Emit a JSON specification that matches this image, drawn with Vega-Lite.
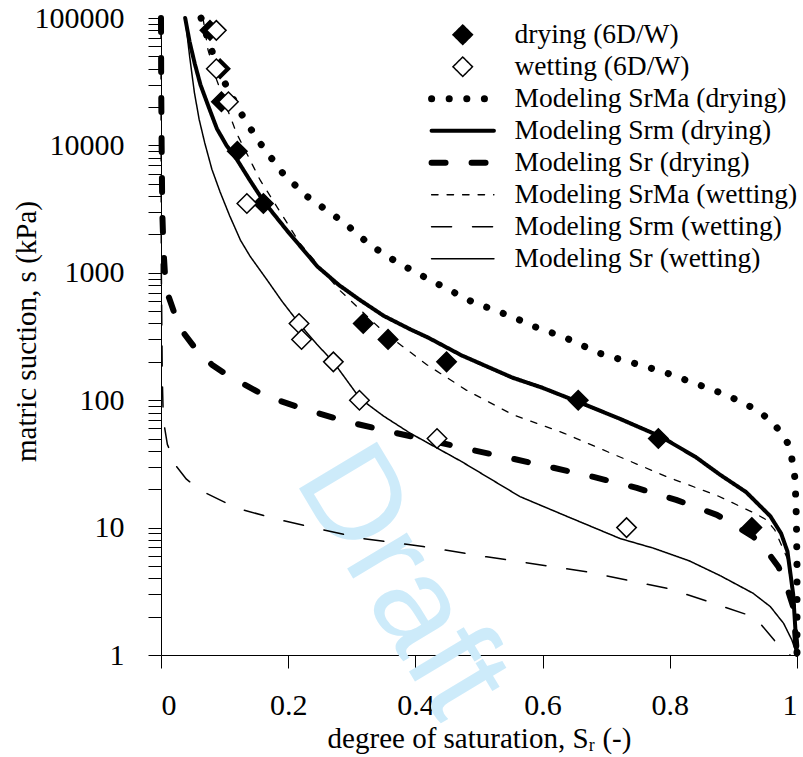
{
  "$schema": "https://vega.github.io/schema/vega-lite/v6.json",
  "width": 636,
  "height": 637,
  "autosize": {"type": "none"},
  "padding": {"left": 161, "top": 18, "right": 6, "bottom": 102},
  "background": "white",
  "config": {
    "view": {"stroke": null},
    "font": "Liberation Serif",
    "axis": {
      "grid": false,
      "domainColor": "black",
      "domainWidth": 1,
      "tickColor": "black",
      "tickWidth": 1,
      "tickSize": 13,
      "labelColor": "black",
      "titleColor": "black",
      "labelFont": "Liberation Serif",
      "titleFont": "Liberation Serif",
      "labelFontSize": 30,
      "titleFontSize": 29,
      "titleFontWeight": "normal"
    },
    "legend": {
      "labelFont": "Liberation Serif",
      "labelFontSize": 27.5,
      "labelColor": "black",
      "labelLimit": 0,
      "symbolSize": 380,
      "symbolStrokeColor": "black",
      "padding": 0
    }
  },
  "datasets": {
    "lines": [
      {"series": "Modeling SrMa (drying)", "Sr": 0.063, "s": 100000},
      {"series": "Modeling SrMa (drying)", "Sr": 0.076, "s": 63000},
      {"series": "Modeling SrMa (drying)", "Sr": 0.09, "s": 40000},
      {"series": "Modeling SrMa (drying)", "Sr": 0.106, "s": 27000},
      {"series": "Modeling SrMa (drying)", "Sr": 0.132, "s": 15800},
      {"series": "Modeling SrMa (drying)", "Sr": 0.156, "s": 10400},
      {"series": "Modeling SrMa (drying)", "Sr": 0.192, "s": 6000},
      {"series": "Modeling SrMa (drying)", "Sr": 0.229, "s": 4000},
      {"series": "Modeling SrMa (drying)", "Sr": 0.287, "s": 2500},
      {"series": "Modeling SrMa (drying)", "Sr": 0.329, "s": 1650},
      {"series": "Modeling SrMa (drying)", "Sr": 0.37, "s": 1220},
      {"series": "Modeling SrMa (drying)", "Sr": 0.418, "s": 905},
      {"series": "Modeling SrMa (drying)", "Sr": 0.489, "s": 593},
      {"series": "Modeling SrMa (drying)", "Sr": 0.553, "s": 450},
      {"series": "Modeling SrMa (drying)", "Sr": 0.588, "s": 377},
      {"series": "Modeling SrMa (drying)", "Sr": 0.634, "s": 312},
      {"series": "Modeling SrMa (drying)", "Sr": 0.69, "s": 233},
      {"series": "Modeling SrMa (drying)", "Sr": 0.79, "s": 167},
      {"series": "Modeling SrMa (drying)", "Sr": 0.889, "s": 110},
      {"series": "Modeling SrMa (drying)", "Sr": 0.937, "s": 84},
      {"series": "Modeling SrMa (drying)", "Sr": 0.96, "s": 68},
      {"series": "Modeling SrMa (drying)", "Sr": 0.976, "s": 55},
      {"series": "Modeling SrMa (drying)", "Sr": 0.989, "s": 43},
      {"series": "Modeling SrMa (drying)", "Sr": 0.997, "s": 24},
      {"series": "Modeling SrMa (drying)", "Sr": 0.999, "s": 12},
      {"series": "Modeling SrMa (drying)", "Sr": 1.0, "s": 5},
      {"series": "Modeling SrMa (drying)", "Sr": 1.0, "s": 1},

      {"series": "Modeling Srm (drying)", "Sr": 0.038, "s": 100000},
      {"series": "Modeling Srm (drying)", "Sr": 0.045, "s": 65000},
      {"series": "Modeling Srm (drying)", "Sr": 0.053, "s": 44000},
      {"series": "Modeling Srm (drying)", "Sr": 0.062, "s": 30000},
      {"series": "Modeling Srm (drying)", "Sr": 0.075, "s": 20000},
      {"series": "Modeling Srm (drying)", "Sr": 0.088, "s": 13500},
      {"series": "Modeling Srm (drying)", "Sr": 0.103, "s": 10000},
      {"series": "Modeling Srm (drying)", "Sr": 0.119, "s": 7800},
      {"series": "Modeling Srm (drying)", "Sr": 0.14, "s": 5300},
      {"series": "Modeling Srm (drying)", "Sr": 0.162, "s": 3600},
      {"series": "Modeling Srm (drying)", "Sr": 0.198, "s": 2150},
      {"series": "Modeling Srm (drying)", "Sr": 0.246, "s": 1120},
      {"series": "Modeling Srm (drying)", "Sr": 0.28, "s": 800},
      {"series": "Modeling Srm (drying)", "Sr": 0.311, "s": 620},
      {"series": "Modeling Srm (drying)", "Sr": 0.35, "s": 460},
      {"series": "Modeling Srm (drying)", "Sr": 0.392, "s": 360},
      {"series": "Modeling Srm (drying)", "Sr": 0.42, "s": 310},
      {"series": "Modeling Srm (drying)", "Sr": 0.4725, "s": 225},
      {"series": "Modeling Srm (drying)", "Sr": 0.553, "s": 150},
      {"series": "Modeling Srm (drying)", "Sr": 0.6, "s": 125},
      {"series": "Modeling Srm (drying)", "Sr": 0.656, "s": 97},
      {"series": "Modeling Srm (drying)", "Sr": 0.72, "s": 72},
      {"series": "Modeling Srm (drying)", "Sr": 0.785, "s": 52},
      {"series": "Modeling Srm (drying)", "Sr": 0.84, "s": 36},
      {"series": "Modeling Srm (drying)", "Sr": 0.879, "s": 26},
      {"series": "Modeling Srm (drying)", "Sr": 0.92, "s": 19},
      {"series": "Modeling Srm (drying)", "Sr": 0.958, "s": 12.3},
      {"series": "Modeling Srm (drying)", "Sr": 0.975, "s": 9},
      {"series": "Modeling Srm (drying)", "Sr": 0.985, "s": 6.5},
      {"series": "Modeling Srm (drying)", "Sr": 0.994, "s": 3},
      {"series": "Modeling Srm (drying)", "Sr": 1.0, "s": 1},

      {"series": "Modeling Sr (drying)", "Sr": 0.0, "s": 100000},
      {"series": "Modeling Sr (drying)", "Sr": 0.0003, "s": 30000},
      {"series": "Modeling Sr (drying)", "Sr": 0.001, "s": 10000},
      {"series": "Modeling Sr (drying)", "Sr": 0.002, "s": 3000},
      {"series": "Modeling Sr (drying)", "Sr": 0.004, "s": 1500},
      {"series": "Modeling Sr (drying)", "Sr": 0.0065, "s": 930},
      {"series": "Modeling Sr (drying)", "Sr": 0.012, "s": 650},
      {"series": "Modeling Sr (drying)", "Sr": 0.022, "s": 467},
      {"series": "Modeling Sr (drying)", "Sr": 0.035, "s": 340},
      {"series": "Modeling Sr (drying)", "Sr": 0.056, "s": 247},
      {"series": "Modeling Sr (drying)", "Sr": 0.08, "s": 190},
      {"series": "Modeling Sr (drying)", "Sr": 0.108, "s": 153},
      {"series": "Modeling Sr (drying)", "Sr": 0.166, "s": 107},
      {"series": "Modeling Sr (drying)", "Sr": 0.229, "s": 84},
      {"series": "Modeling Sr (drying)", "Sr": 0.292, "s": 68},
      {"series": "Modeling Sr (drying)", "Sr": 0.357, "s": 57},
      {"series": "Modeling Sr (drying)", "Sr": 0.418, "s": 49},
      {"series": "Modeling Sr (drying)", "Sr": 0.486, "s": 41},
      {"series": "Modeling Sr (drying)", "Sr": 0.55, "s": 35},
      {"series": "Modeling Sr (drying)", "Sr": 0.617, "s": 29.5},
      {"series": "Modeling Sr (drying)", "Sr": 0.68, "s": 25},
      {"series": "Modeling Sr (drying)", "Sr": 0.748, "s": 20.5},
      {"series": "Modeling Sr (drying)", "Sr": 0.81, "s": 16.5},
      {"series": "Modeling Sr (drying)", "Sr": 0.874, "s": 12.6},
      {"series": "Modeling Sr (drying)", "Sr": 0.931, "s": 8.5},
      {"series": "Modeling Sr (drying)", "Sr": 0.955, "s": 6.3},
      {"series": "Modeling Sr (drying)", "Sr": 0.971, "s": 4.9},
      {"series": "Modeling Sr (drying)", "Sr": 0.985, "s": 3.3},
      {"series": "Modeling Sr (drying)", "Sr": 0.994, "s": 2.4},
      {"series": "Modeling Sr (drying)", "Sr": 1.0, "s": 1},

      {"series": "Modeling SrMa (wetting)", "Sr": 0.066, "s": 100000},
      {"series": "Modeling SrMa (wetting)", "Sr": 0.074, "s": 56000},
      {"series": "Modeling SrMa (wetting)", "Sr": 0.0876, "s": 32600},
      {"series": "Modeling SrMa (wetting)", "Sr": 0.101, "s": 21300},
      {"series": "Modeling SrMa (wetting)", "Sr": 0.119, "s": 12400},
      {"series": "Modeling SrMa (wetting)", "Sr": 0.156, "s": 5330},
      {"series": "Modeling SrMa (wetting)", "Sr": 0.192, "s": 2760},
      {"series": "Modeling SrMa (wetting)", "Sr": 0.2186, "s": 1700},
      {"series": "Modeling SrMa (wetting)", "Sr": 0.279, "s": 745},
      {"series": "Modeling SrMa (wetting)", "Sr": 0.351, "s": 340},
      {"series": "Modeling SrMa (wetting)", "Sr": 0.418, "s": 190},
      {"series": "Modeling SrMa (wetting)", "Sr": 0.48, "s": 120},
      {"series": "Modeling SrMa (wetting)", "Sr": 0.553, "s": 77},
      {"series": "Modeling SrMa (wetting)", "Sr": 0.634, "s": 55},
      {"series": "Modeling SrMa (wetting)", "Sr": 0.715, "s": 37},
      {"series": "Modeling SrMa (wetting)", "Sr": 0.796, "s": 25},
      {"series": "Modeling SrMa (wetting)", "Sr": 0.876, "s": 17.7},
      {"series": "Modeling SrMa (wetting)", "Sr": 0.933, "s": 13},
      {"series": "Modeling SrMa (wetting)", "Sr": 0.952, "s": 11.5},
      {"series": "Modeling SrMa (wetting)", "Sr": 0.965, "s": 9.6},
      {"series": "Modeling SrMa (wetting)", "Sr": 0.985, "s": 5.7},
      {"series": "Modeling SrMa (wetting)", "Sr": 0.995, "s": 2.5},
      {"series": "Modeling SrMa (wetting)", "Sr": 1.0, "s": 1},

      {"series": "Modeling Srm (wetting)", "Sr": 0.0, "s": 100000},
      {"series": "Modeling Srm (wetting)", "Sr": 0.0005, "s": 1000},
      {"series": "Modeling Srm (wetting)", "Sr": 0.002, "s": 150},
      {"series": "Modeling Srm (wetting)", "Sr": 0.0037, "s": 70},
      {"series": "Modeling Srm (wetting)", "Sr": 0.01, "s": 45},
      {"series": "Modeling Srm (wetting)", "Sr": 0.0247, "s": 30},
      {"series": "Modeling Srm (wetting)", "Sr": 0.04, "s": 24},
      {"series": "Modeling Srm (wetting)", "Sr": 0.0613, "s": 19.7},
      {"series": "Modeling Srm (wetting)", "Sr": 0.119, "s": 14.2},
      {"series": "Modeling Srm (wetting)", "Sr": 0.187, "s": 11.5},
      {"series": "Modeling Srm (wetting)", "Sr": 0.255, "s": 9.6},
      {"series": "Modeling Srm (wetting)", "Sr": 0.318, "s": 8.2},
      {"series": "Modeling Srm (wetting)", "Sr": 0.412, "s": 7.1},
      {"series": "Modeling Srm (wetting)", "Sr": 0.512, "s": 5.9},
      {"series": "Modeling Srm (wetting)", "Sr": 0.669, "s": 4.5},
      {"series": "Modeling Srm (wetting)", "Sr": 0.8, "s": 3.3},
      {"series": "Modeling Srm (wetting)", "Sr": 0.863, "s": 2.6},
      {"series": "Modeling Srm (wetting)", "Sr": 0.931, "s": 2.0},
      {"series": "Modeling Srm (wetting)", "Sr": 0.942, "s": 1.77},
      {"series": "Modeling Srm (wetting)", "Sr": 0.968, "s": 1.24},
      {"series": "Modeling Srm (wetting)", "Sr": 0.989, "s": 1.0},

      {"series": "Modeling Sr (wetting)", "Sr": 0.038, "s": 100000},
      {"series": "Modeling Sr (wetting)", "Sr": 0.045, "s": 50000},
      {"series": "Modeling Sr (wetting)", "Sr": 0.0525, "s": 26000},
      {"series": "Modeling Sr (wetting)", "Sr": 0.06, "s": 16000},
      {"series": "Modeling Sr (wetting)", "Sr": 0.0687, "s": 10500},
      {"series": "Modeling Sr (wetting)", "Sr": 0.08, "s": 6500},
      {"series": "Modeling Sr (wetting)", "Sr": 0.093, "s": 4300},
      {"series": "Modeling Sr (wetting)", "Sr": 0.108, "s": 2800},
      {"series": "Modeling Sr (wetting)", "Sr": 0.125, "s": 1800},
      {"series": "Modeling Sr (wetting)", "Sr": 0.14, "s": 1350},
      {"series": "Modeling Sr (wetting)", "Sr": 0.166, "s": 890},
      {"series": "Modeling Sr (wetting)", "Sr": 0.19, "s": 600},
      {"series": "Modeling Sr (wetting)", "Sr": 0.219, "s": 390},
      {"series": "Modeling Sr (wetting)", "Sr": 0.245, "s": 275},
      {"series": "Modeling Sr (wetting)", "Sr": 0.271, "s": 200},
      {"series": "Modeling Sr (wetting)", "Sr": 0.313, "s": 103},
      {"series": "Modeling Sr (wetting)", "Sr": 0.35, "s": 75},
      {"series": "Modeling Sr (wetting)", "Sr": 0.392, "s": 55},
      {"series": "Modeling Sr (wetting)", "Sr": 0.4725, "s": 33},
      {"series": "Modeling Sr (wetting)", "Sr": 0.5645, "s": 17.5},
      {"series": "Modeling Sr (wetting)", "Sr": 0.634, "s": 12.5},
      {"series": "Modeling Sr (wetting)", "Sr": 0.722, "s": 8.2},
      {"series": "Modeling Sr (wetting)", "Sr": 0.774, "s": 6.9},
      {"series": "Modeling Sr (wetting)", "Sr": 0.83, "s": 5.5},
      {"series": "Modeling Sr (wetting)", "Sr": 0.879, "s": 4.2},
      {"series": "Modeling Sr (wetting)", "Sr": 0.931, "s": 3.05},
      {"series": "Modeling Sr (wetting)", "Sr": 0.958, "s": 2.4},
      {"series": "Modeling Sr (wetting)", "Sr": 0.979, "s": 1.77},
      {"series": "Modeling Sr (wetting)", "Sr": 0.992, "s": 1.31},
      {"series": "Modeling Sr (wetting)", "Sr": 1.0, "s": 1}
    ],
    "points": [
      {"series": "drying (6D/W)", "Sr": 0.077, "s": 80000},
      {"series": "drying (6D/W)", "Sr": 0.093, "s": 40000},
      {"series": "drying (6D/W)", "Sr": 0.095, "s": 22000},
      {"series": "drying (6D/W)", "Sr": 0.12, "s": 9000},
      {"series": "drying (6D/W)", "Sr": 0.161, "s": 3500},
      {"series": "drying (6D/W)", "Sr": 0.318, "s": 400},
      {"series": "drying (6D/W)", "Sr": 0.357, "s": 300},
      {"series": "drying (6D/W)", "Sr": 0.449, "s": 200},
      {"series": "drying (6D/W)", "Sr": 0.656, "s": 100},
      {"series": "drying (6D/W)", "Sr": 0.782, "s": 50},
      {"series": "drying (6D/W)", "Sr": 0.929, "s": 10},
      {"series": "wetting (6D/W)", "Sr": 0.087, "s": 80000},
      {"series": "wetting (6D/W)", "Sr": 0.087, "s": 40000},
      {"series": "wetting (6D/W)", "Sr": 0.106, "s": 22000},
      {"series": "wetting (6D/W)", "Sr": 0.135, "s": 3500},
      {"series": "wetting (6D/W)", "Sr": 0.217, "s": 400},
      {"series": "wetting (6D/W)", "Sr": 0.221, "s": 300},
      {"series": "wetting (6D/W)", "Sr": 0.271, "s": 200},
      {"series": "wetting (6D/W)", "Sr": 0.312, "s": 100},
      {"series": "wetting (6D/W)", "Sr": 0.434, "s": 50},
      {"series": "wetting (6D/W)", "Sr": 0.732, "s": 10}
    ]
  },
  "layer": [
    {
      "data": {"values": [{}]},
      "mark": {"type": "text", "text": "Draft", "angle": 59, "fontSize": 132, "font": "Liberation Sans", "color": "#cdebfa"},
      "encoding": {
        "x": {"datum": 0.378, "type": "quantitative"},
        "y": {"datum": 3.8, "type": "quantitative"}
      }
    },
    {
      "data": {"name": "lines"},
      "mark": {"type": "line", "color": "black", "strokeCap": "round", "strokeJoin": "round"},
      "encoding": {
        "x": {
          "field": "Sr", "type": "quantitative",
          "scale": {"domain": [0, 1], "nice": false, "zero": false},
          "axis": {"title": "degree of saturation, Sᵣ (-)", "values": [0, 0.2, 0.4, 0.6, 0.8, 1], "format": "~g", "labelPadding": 22, "titlePadding": 4}
        },
        "y": {
          "field": "s", "type": "quantitative",
          "scale": {"type": "log", "domain": [1, 100000], "nice": false},
          "axis": {
            "title": "matric suction, s (kPa)",
            "values": [1,2,3,4,5,6,7,8,9,10,20,30,40,50,60,70,80,90,100,200,300,400,500,600,700,800,900,1000,2000,3000,4000,5000,6000,7000,8000,9000,10000,20000,30000,40000,50000,60000,70000,80000,90000,100000],
            "labelExpr": "indexof([1,10,100,1000,10000,100000], datum.value) >= 0 ? '' + datum.value : ''",
            "labelPadding": 24,
            "titleX": -126,
            "titleY": 313,
            "titleAngle": 270,
            "titleAlign": "center",
            "titleBaseline": "alphabetic"
          }
        },
        "detail": {"field": "series"},
        "order": {"field": "s", "sort": "descending"},
        "strokeDash": {
          "field": "series", "type": "nominal",
          "scale": {
            "domain": ["drying (6D/W)", "wetting (6D/W)", "Modeling SrMa (drying)", "Modeling Srm (drying)", "Modeling Sr (drying)", "Modeling SrMa (wetting)", "Modeling Srm (wetting)", "Modeling Sr (wetting)"],
            "range": [[1, 0], [1, 0], [0.1, 17.5], [1, 0], [14, 26], [6.5, 9], [20, 21], [1, 0]]
          },
          "legend": {"title": null, "orient": "none", "legendX": 288, "legendY": 3, "labelOffset": 38, "rowPadding": 3, "encode": {"symbols": {"update": {"stroke": {"value": "black"}, "strokeCap": {"value": "round"}}}}}
        },
        "strokeWidth": {
          "field": "series", "type": "nominal",
          "scale": {
            "type": "ordinal",
            "domain": ["drying (6D/W)", "wetting (6D/W)", "Modeling SrMa (drying)", "Modeling Srm (drying)", "Modeling Sr (drying)", "Modeling SrMa (wetting)", "Modeling Srm (wetting)", "Modeling Sr (wetting)"],
            "range": [1.5, 1.5, 7, 4, 6, 1.3, 1.5, 1.5]
          },
          "legend": {"title": null, "orient": "none", "legendX": 288, "legendY": 3, "labelOffset": 38, "rowPadding": 3, "encode": {"symbols": {"update": {"stroke": {"value": "black"}, "strokeCap": {"value": "round"}}}}}
        }
      }
    },
    {
      "data": {"name": "points"},
      "mark": {"type": "point", "filled": true, "size": 380, "stroke": "black", "strokeWidth": 1.5, "opacity": 1},
      "encoding": {
        "x": {"field": "Sr", "type": "quantitative"},
        "y": {"field": "s", "type": "quantitative"},
        "shape": {
          "field": "series", "type": "nominal",
          "scale": {
            "domain": ["drying (6D/W)", "wetting (6D/W)", "Modeling SrMa (drying)", "Modeling Srm (drying)", "Modeling Sr (drying)", "Modeling SrMa (wetting)", "Modeling Srm (wetting)", "Modeling Sr (wetting)"],
            "range": ["diamond", "diamond", "M-3.2,0H3.2", "M-3.2,0H3.2", "M-3.2,0H3.2", "M-3.2,0H3.2", "M-3.2,0H3.2", "M-3.2,0H3.2"]
          },
          "legend": {"title": null, "orient": "none", "legendX": 288, "legendY": 3, "labelOffset": 38, "rowPadding": 3, "encode": {"symbols": {"update": {"stroke": {"value": "black"}, "strokeCap": {"value": "round"}}}}}
        },
        "fill": {
          "field": "series", "type": "nominal",
          "scale": {
            "domain": ["drying (6D/W)", "wetting (6D/W)", "Modeling SrMa (drying)", "Modeling Srm (drying)", "Modeling Sr (drying)", "Modeling SrMa (wetting)", "Modeling Srm (wetting)", "Modeling Sr (wetting)"],
            "range": ["black", "white", "transparent", "transparent", "transparent", "transparent", "transparent", "transparent"]
          },
          "legend": {"title": null, "orient": "none", "legendX": 288, "legendY": 3, "labelOffset": 38, "rowPadding": 3, "encode": {"symbols": {"update": {"stroke": {"value": "black"}, "strokeCap": {"value": "round"}}}}}
        }
      }
    }
  ]
}
